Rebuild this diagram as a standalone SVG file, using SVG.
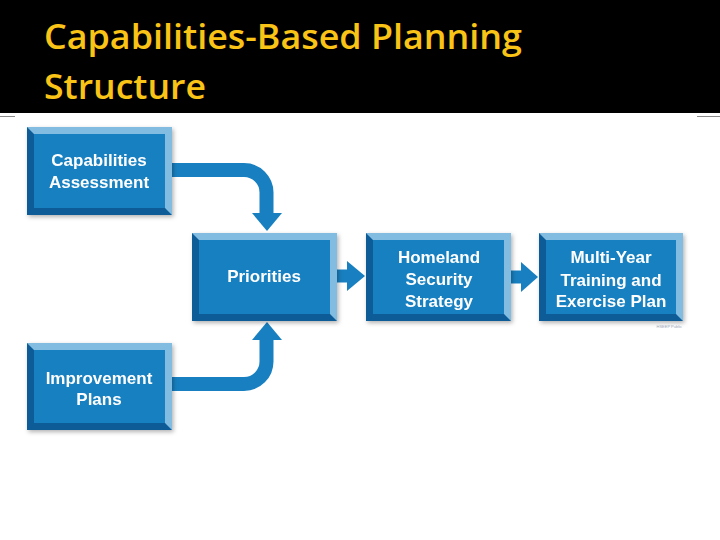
<svg xmlns="http://www.w3.org/2000/svg" width="720" height="540" viewBox="0 0 720 540">
<defs>
<filter id="sh" x="-10%" y="-10%" width="125%" height="130%">
<feDropShadow dx="1.5" dy="2" stdDeviation="2" flood-color="#000" flood-opacity="0.3"/>
</filter>
</defs>
<style>
.light{fill:#82BCE0}
.dark{fill:#0B5B98}
.face{fill:#1880C0}
.lbl{font-family:"Liberation Sans",Arial,sans-serif;font-weight:bold;font-size:17px;fill:#FFFFFF;text-anchor:middle}
.band{fill:none;stroke:#1880C0;stroke-width:14}
.head{fill:#1880C0}
.title{font-family:"Open Sans","Noto Sans",sans-serif;font-weight:600;font-size:35px;fill:#F9C416}
</style>
<rect x="0" y="0" width="720" height="540" fill="#FFFFFF"/>
<rect x="0" y="0" width="720" height="113" fill="#000000"/>
<text class="title" x="44" y="49" textLength="478" lengthAdjust="spacingAndGlyphs">Capabilities-Based Planning</text>
<text class="title" x="44" y="99" textLength="162" lengthAdjust="spacingAndGlyphs">Structure</text>
<line x1="0" y1="116.5" x2="15" y2="116.5" stroke="#8A8A8A" stroke-width="1"/>
<line x1="697" y1="116.5" x2="720" y2="116.5" stroke="#8A8A8A" stroke-width="1"/>

<g id="connectors">
<path class="band" d="M165,170 H244 A22.5,22.5 0 0 1 266.5,192.5 V214"/>
<polygon class="head" points="252,213 282,213 267,231"/>
<path class="band" d="M165,384 H244 A22.5,22.5 0 0 0 266.5,361.5 V339"/>
<polygon class="head" points="252,340 282,340 267,322"/>
<path class="band" d="M330,276 H348" style="stroke-width:13"/>
<polygon class="head" points="347,261 347,291 365,276"/>
<path class="band" d="M505,277 H522" style="stroke-width:13"/>
<polygon class="head" points="521,262 521,292 538,277"/>
</g>

<g id="node-capabilities" filter="url(#sh)">
<rect class="light" x="27" y="127" width="145" height="88"/>
<polygon class="dark" points="27,127 34,134 34,208 165,208 172,215 27,215"/>
<rect class="face" x="34" y="134" width="131" height="74"/>
<text class="lbl" x="99" y="166">Capabilities</text>
<text class="lbl" x="99" y="188">Assessment</text>
</g>

<g id="node-priorities" filter="url(#sh)">
<rect class="light" x="192" y="233" width="145" height="88"/>
<polygon class="dark" points="192,233 199,240 199,314 330,314 337,321 192,321"/>
<rect class="face" x="199" y="240" width="131" height="74"/>
<text class="lbl" x="264" y="282">Priorities</text>
</g>

<g id="node-homeland" filter="url(#sh)">
<rect class="light" x="366" y="233" width="145" height="88"/>
<polygon class="dark" points="366,233 373,240 373,314 504,314 511,321 366,321"/>
<rect class="face" x="373" y="240" width="131" height="74"/>
<text class="lbl" x="439" y="263">Homeland</text>
<text class="lbl" x="439" y="285">Security</text>
<text class="lbl" x="439" y="307">Strategy</text>
</g>

<g id="node-multiyear" filter="url(#sh)">
<rect class="light" x="539" y="233" width="144" height="88"/>
<polygon class="dark" points="539,233 546,240 546,314 676,314 683,321 539,321"/>
<rect class="face" x="546" y="240" width="130" height="74"/>
<text class="lbl" x="611" y="263">Multi-Year</text>
<text class="lbl" x="611" y="286">Training and</text>
<text class="lbl" x="611" y="307">Exercise Plan</text>
</g>
<text x="682" y="328" font-family="Liberation Sans,Arial,sans-serif" font-size="4" fill="#9AA8B8" text-anchor="end">HSEEP Public</text>

<g id="node-improvement" filter="url(#sh)">
<rect class="light" x="27" y="343" width="145" height="87"/>
<polygon class="dark" points="27,343 34,350 34,423 165,423 172,430 27,430"/>
<rect class="face" x="34" y="350" width="131" height="73"/>
<text class="lbl" x="99" y="384">Improvement</text>
<text class="lbl" x="99" y="405">Plans</text>
</g>
</svg>
